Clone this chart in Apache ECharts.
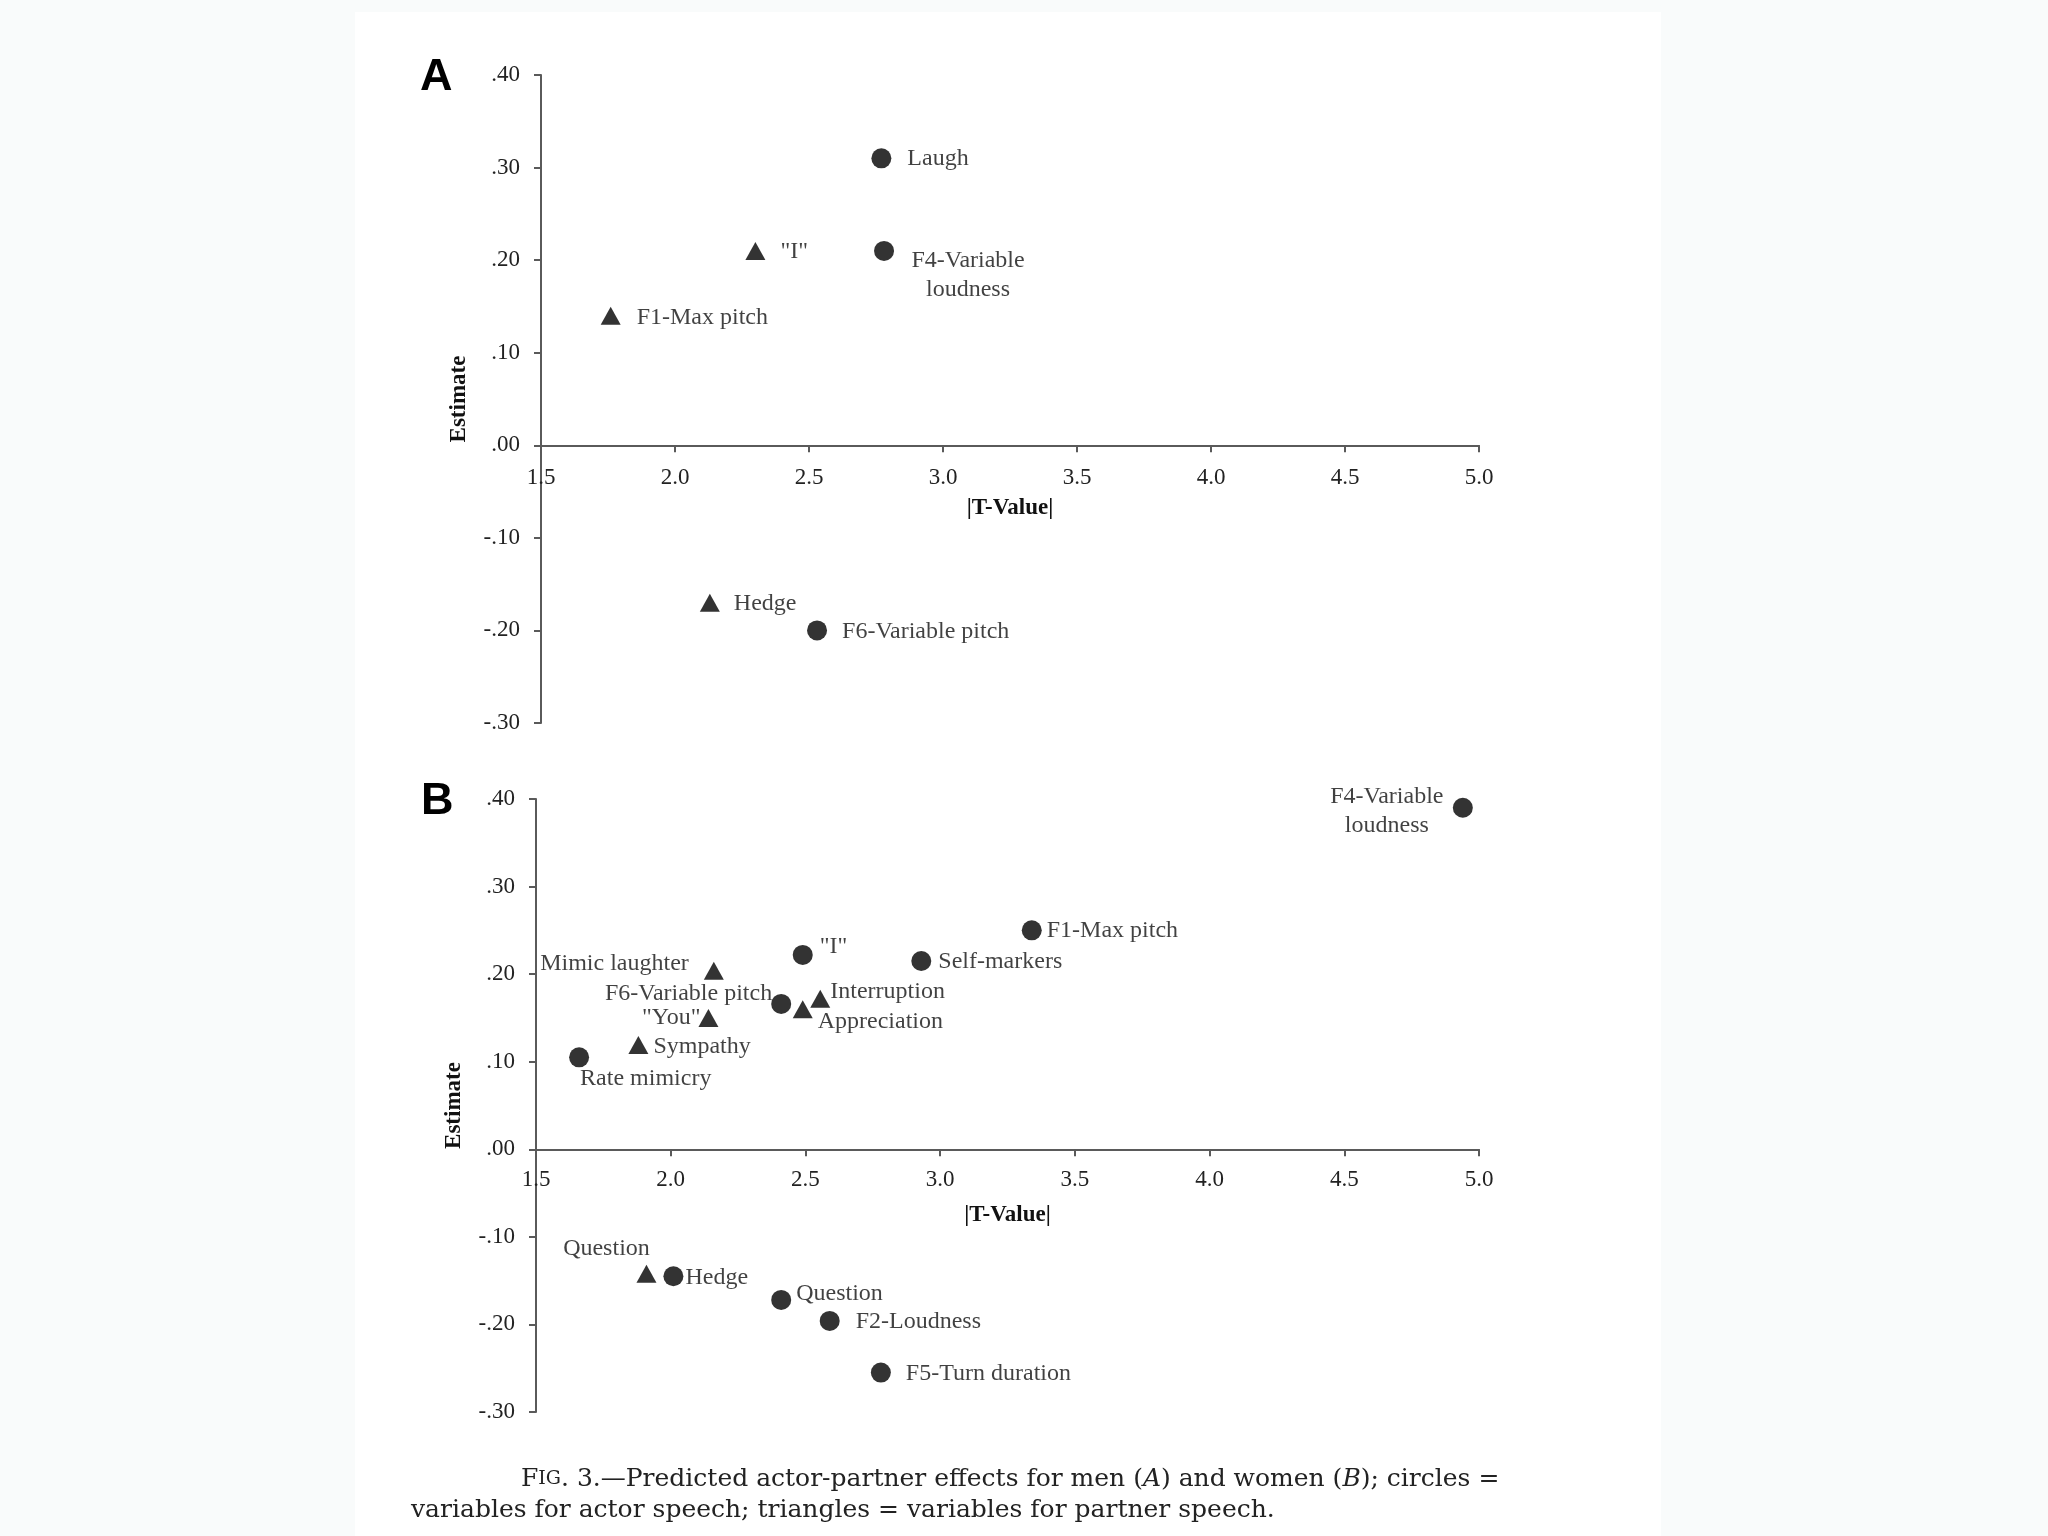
<!DOCTYPE html>
<html>
<head>
<meta charset="utf-8">
<script src="https://cdn.jsdelivr.net/npm/echarts@6/dist/echarts.min.js"></script>
<style>
  html, body { margin: 0; padding: 0; background: #f9fbfb; }
  #chart { width: 2048px; height: 1536px; }
</style>
</head>
<body>
<div id="chart"></div>
<script>
// ---------- DATA ----------
const xTicks = [1.5, 2.0, 2.5, 3.0, 3.5, 4.0, 4.5, 5.0];
const yTicks = [-0.30, -0.20, -0.10, 0.00, 0.10, 0.20, 0.30, 0.40];

// Panel A (men) — circles = actor speech
const aCircleNames = ['Laugh', 'F4-Variable\nloudness', 'F6-Variable pitch'];
const aCircleT     = [2.77, 2.78, 2.53];
const aCircleEst   = [0.31, 0.21, -0.20];
// Panel A — triangles = partner speech
const aTriNames = ['"I"', 'F1-Max pitch', 'Hedge'];
const aTriT     = [2.30, 1.76, 2.13];
const aTriEst   = [0.21, 0.14, -0.17];

// Panel B (women) — circles
const bCircleNames = ['F4-Variable\nloudness', 'F1-Max pitch', 'Self-markers', '"I"', 'F6-Variable pitch',
                      'Rate mimicry', 'Hedge', 'Question', 'F2-Loudness', 'F5-Turn duration'];
const bCircleT     = [4.94, 3.34, 2.93, 2.49, 2.41, 1.66, 2.01, 2.41, 2.59, 2.78];
const bCircleEst   = [0.39, 0.25, 0.215, 0.222, 0.166, 0.105, -0.145, -0.172, -0.196, -0.255];
// Panel B — triangles
const bTriNames = ['Mimic laughter', 'Interruption', 'Appreciation', '"You"', 'Sympathy', 'Question'];
const bTriT     = [2.16, 2.555, 2.49, 2.14, 1.88, 1.91];
const bTriEst   = [0.204, 0.172, 0.160, 0.150, 0.119, -0.142];

// ---------- LAYOUT (label placement, px relative to marker centre) ----------
const labelLayout = {
  'A|Laugh': [26, 0, 'left'],
  'A|F4-Variable\nloudness': [84, 24, 'center'],
  'A|F6-Variable pitch': [25, 1, 'left'],
  'A|"I"': [25, 0, 'left'],
  'A|F1-Max pitch': [26, 1, 'left'],
  'A|Hedge': [24, 0, 'left'],
  'B|F4-Variable\nloudness': [-76, 3, 'center'],
  'B|F1-Max pitch': [15, 0, 'left'],
  'B|Self-markers': [17, 1, 'left'],
  'B|"I"': [17, -8, 'left'],
  'B|F6-Variable pitch': [-9, -10, 'right'],
  'B|Rate mimicry': [1, 21, 'left'],
  'B|Hedge': [12, 1, 'left'],
  'B|Question': [15, -6, 'left'],
  'B|F2-Loudness': [26, 1, 'left'],
  'B|F5-Turn duration': [25, 1, 'left'],
  'B|Mimic laughter': [-25, -8, 'right'],
  'B|Interruption': [10, -8, 'left'],
  'B|Appreciation': [15, 12, 'left'],
  'B|"You"': [-8, -1, 'right'],
  'B|Sympathy': [15, 1, 'left'],
  'B|QuestionT': [-40, -26, 'center']
};

const SERIF = '"Liberation Serif", "Times New Roman", serif';
const INK = '#000';

function buildData(panel, names, xs, ys, triangle) {
  return names.map((n, i) => {
    const key = panel + '|' + n + (triangle && panel === 'B' && n === 'Question' ? 'T' : '');
    const l = labelLayout[key] || [20, 0, 'left'];
    return {
      name: n,
      value: [xs[i], ys[i]],
      label: {
        show: true,
        formatter: n,
        position: 'inside',
        offset: [l[0], l[1] + (triangle ? 1 : 0)],
        align: l[2],
        verticalAlign: 'middle',
        fontFamily: SERIF,
        fontSize: 24,
        lineHeight: 29,
        color: '#111'
      }
    };
  });
}

function yFmt(v) {
  const s = Math.abs(v).toFixed(2).replace(/^0/, '');
  return (v < -1e-9 ? '-' : '') + s;
}

function makeXAxis(gridIndex, margin, nameGap) {
  return {
    type: 'value', gridIndex, min: xTicks[0], max: xTicks[xTicks.length - 1], interval: 0.5,
    position: 'bottom', offset: 0,
    name: '|T-Value|', nameLocation: 'middle', nameGap: nameGap,
    nameTextStyle: { fontFamily: SERIF, fontSize: 23, fontWeight: 'bold', color: '#111' },
    axisLine: { show: true, onZero: false, lineStyle: { color: '#5a5a5a', width: 2 } },
    axisTick: { show: true, inside: false, length: 7, lineStyle: { color: '#5a5a5a', width: 2 } },
    axisLabel: { margin: margin, fontFamily: SERIF, fontSize: 23, color: '#222', formatter: v => v.toFixed(1) },
    splitLine: { show: false }
  };
}
function makeYAxis(gridIndex) {
  return {
    type: 'value', gridIndex, min: yTicks[0], max: yTicks[yTicks.length - 1], interval: 0.1,
    name: 'Estimate', nameLocation: 'middle', nameGap: 70, nameRotate: 90,
    nameTextStyle: { fontFamily: SERIF, fontSize: 23, fontWeight: 'bold', color: '#111' },
    axisLine: { show: true, onZero: false, lineStyle: { color: '#5a5a5a', width: 2 } },
    axisTick: { show: true, inside: false, length: 7, lineStyle: { color: '#5a5a5a', width: 2 } },
    axisLabel: { margin: 21, fontFamily: SERIF, fontSize: 23, color: '#222', formatter: yFmt },
    splitLine: { show: false }
  };
}

function scatter(idx, data, triangle) {
  return {
    type: 'scatter', xAxisIndex: idx, yAxisIndex: idx,
    symbol: triangle ? 'triangle' : 'circle',
    symbolSize: triangle ? [20, 18] : 20,
    itemStyle: { color: INK },
    silent: true,
    emphasis: { disabled: true },
    data
  };
}

const grids = [
  { left: 541, top: 75, width: 938, height: 648 },
  { left: 536, top: 799, width: 943, height: 613 }
];

const chart = echarts.init(document.getElementById('chart'), null, { renderer: 'canvas' });
chart.setOption({
  animation: false,
  backgroundColor: '#f9fbfb',
  grid: grids,
  xAxis: [makeXAxis(0, 21, 51), makeXAxis(1, 19, 54)],
  yAxis: [makeYAxis(0), makeYAxis(1)],
  series: [
    scatter(0, buildData('A', aCircleNames, aCircleT, aCircleEst, false), false),
    scatter(0, buildData('A', aTriNames, aTriT, aTriEst, true), true),
    scatter(1, buildData('B', bCircleNames, bCircleT, bCircleEst, false), false),
    scatter(1, buildData('B', bTriNames, bTriT, bTriEst, true), true)
  ],
  graphic: [
    { type: 'rect', z: -10, silent: true, shape: { x: 355, y: 12, width: 1306, height: 1524 }, style: { fill: '#ffffff' } },
    { type: 'text', left: 420, top: 55, style: { text: 'A', font: 'bold 45px "Liberation Sans", Arial, sans-serif', fill: '#000' } },
    { type: 'text', left: 421, top: 779, style: { text: 'B', font: 'bold 45px "Liberation Sans", Arial, sans-serif', fill: '#000' } },
    {
      type: 'text', x: 521, y: 1479,
      style: {
        text: 'F{sc|IG}. 3.—Predicted actor-partner effects for men ({i|A}) and women ({i|B}); circles =',
        font: '25px "DejaVu Serif", serif', fill: '#222', verticalAlign: 'middle', align: 'left',
        rich: {
          sc: { fontSize: 19, fontFamily: '"DejaVu Serif", serif', fill: '#222' },
          i: { fontStyle: 'italic', fontSize: 25, fontFamily: '"DejaVu Serif", serif', fill: '#222' }
        }
      }
    },
    {
      type: 'text', x: 411, y: 1510,
      style: {
        text: 'variables for actor speech; triangles = variables for partner speech.',
        font: '25px "DejaVu Serif", serif', fill: '#222', verticalAlign: 'middle', align: 'left'
      }
    }
  ]
});

// Move each x axis so that it crosses the y axis at Estimate = 0 (through the library's scale).
const offsets = grids.map((g, i) => {
  const zeroY = chart.convertToPixel({ yAxisIndex: i }, 0);
  return -((g.top + g.height) - zeroY);
});
chart.setOption({ xAxis: offsets.map(o => ({ offset: o })) });
</script>
</body>
</html>
